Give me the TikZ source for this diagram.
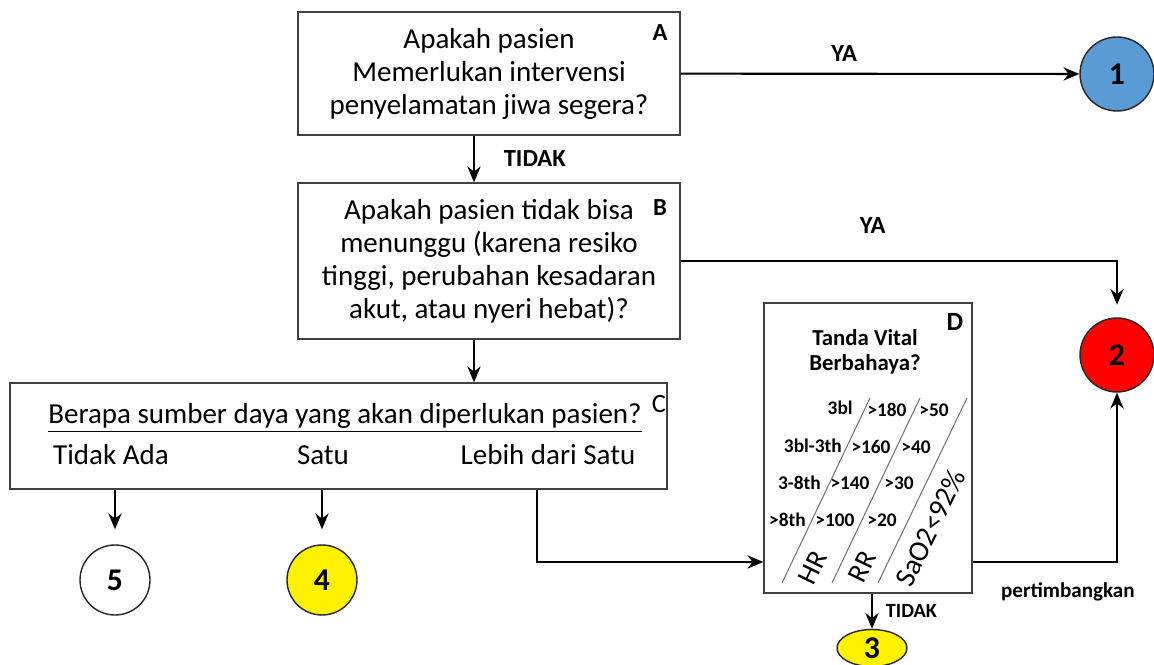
\documentclass[tikz,border=0pt]{standalone}
\usepackage{fontspec}
\setmainfont{Carlito}
\usetikzlibrary{arrows.meta, shapes.geometric}

\begin{document}
\begin{tikzpicture}[x=0.02cm, y=-0.02cm]

\tikzset{box/.style = {shape=rectangle, draw=black!75, line width=0.8pt, align=center, font=\fontsize{16.5}{18.8}\selectfont}}
\tikzset{vertex/.style = {shape=circle, draw=black!85, line width=0.8pt, minimum size=1.48cm, font=\fontsize{18}{18}\selectfont\bfseries}}
\tikzset{edge/.style = {-{Stealth[length=9pt, width=7.5pt]}, line width=1.2pt}}
\tikzset{tag/.style = {font=\fontsize{14}{14}\selectfont\bfseries}}
\tikzset{cell/.style = {font=\fontsize{11}{11}\selectfont\bfseries, inner sep=0pt}}
\useasboundingbox (0,0) rectangle (1154,665);

%boxes
\node[box, minimum width=7.64cm, minimum height=2.46cm] (boxA) at (489,73.5) {Apakah pasien\\Memerlukan intervensi\\penyelamatan jiwa segera?};
\node[box, minimum width=7.64cm, minimum height=3.12cm] (boxB) at (489,261) {Apakah pasien tidak bisa\\menunggu (karena resiko\\tinggi, perubahan kesadaran\\akut, atau nyeri hebat)?};
\node[box, minimum width=13.14cm, minimum height=2.12cm] (boxC) at (338.5,436) {};
\node[box, minimum width=4.16cm, minimum height=5.8cm] (boxD) at (868,448) {};
\node[tag] (tagA) at (660,33) {A};
\node[tag] (tagB) at (660,208) {B};
\node[font=\fontsize{15}{15}\selectfont] (tagC) at (659,404) {C};
\node[tag, font=\fontsize{15}{15}\selectfont\bfseries] (tagD) at (955,322) {D};

%box C
\node[font=\fontsize{16.5}{16.5}\selectfont] (ask) at (345,418) {\underline{Berapa sumber daya yang akan diperlukan pasien?}};
\node[font=\fontsize{16.5}{16.5}\selectfont] (none) at (111,455) {Tidak Ada};
\node[font=\fontsize{16.5}{16.5}\selectfont] (one) at (323,455) {Satu};
\node[font=\fontsize{16.5}{16.5}\selectfont] (more) at (548,455) {Lebih dari Satu};

%box D
\node[align=center, font=\fontsize{13}{14.5}\selectfont\bfseries] (vital) at (865,352) {Tanda Vital\\Berbahaya?};
\draw[black!55, line width=0.6pt] (870,398) -- (782,583);
\draw[black!55, line width=0.6pt] (920,398) -- (832,583);
\draw[black!55, line width=0.6pt] (967,398) -- (878,583);
\node[cell, anchor=east] (r1) at (853,408) {3bl};
\node[cell, anchor=east] (r2) at (842,446) {3bl-3th};
\node[cell, anchor=east] (r3) at (821,483) {3-8th};
\node[cell, anchor=east] (r4) at (806,520) {>8th};
\node[cell] (hr1) at (887,410) {>180};
\node[cell] (rr1) at (934,410) {>50};
\node[cell] (hr2) at (871,447) {>160};
\node[cell] (rr2) at (916,447) {>40};
\node[cell] (hr3) at (850,483) {>140};
\node[cell] (rr3) at (899,483) {>30};
\node[cell] (hr4) at (835,520) {>100};
\node[cell] (rr4) at (882,520) {>20};
\node[rotate=64, inner sep=0pt, font=\fontsize{16}{16}\selectfont] (hr) at (813,568) {HR};
\node[rotate=64, inner sep=0pt, font=\fontsize{16}{16}\selectfont] (rr) at (862,567) {RR};
\node[rotate=64, inner sep=0pt, font=\fontsize{16.5}{16.5}\selectfont] (sao) at (930,528) {SaO2<92\%};

%verticies
\node[vertex, fill={rgb,255:red,91;green,155;blue,213}] (c1) at (1117,74) {1};
\node[vertex, fill=red] (c2) at (1117,355) {2};
\node[vertex, fill=yellow, minimum size=1.4cm, shape=ellipse, minimum width=1.4cm, minimum height=0.74cm, inner sep=0pt] (c3) at (872,648) {3};
\node[vertex, fill=yellow, minimum size=1.4cm] (c4) at (322,580) {4};
\node[vertex, fill=white, minimum size=1.4cm] (c5) at (115,580) {5};

%edges
\draw[edge] (boxA) -- (c1) node[pos=0.41, above=3pt, tag] {YA};
\draw[edge] ([xshift=-0.3cm]boxA.south) -- ([xshift=-0.3cm]boxB.north) node[midway, right=13pt, tag] {TIDAK};
\draw[edge, shorten >=0.25cm] (boxB.east) -| (c2.north) node[pos=0.22, above=12pt, tag] {YA};
\draw[edge] ([xshift=-0.3cm]boxB.south) -- ([xshift=-0.3cm]boxB.south |- boxC.north);
\draw[edge, shorten >=0.3cm] (boxC.south -| c5) -- (c5.north);
\draw[edge, shorten >=0.3cm] (boxC.south -| c4) -- (c4.north);
\draw[edge] ([xshift=-0.22cm]boxC.south -| more) |- ([yshift=-2.28cm]boxD.west);
\draw[edge] ([yshift=-2.28cm]boxD.east) -| (c2.south) node[pos=0.33, below=8pt, font=\fontsize{12}{12}\selectfont\bfseries] {pertimbangkan};
\draw[edge] (boxD.south -| c3) -- (c3.north) node[midway, right=4pt, font=\fontsize{11.5}{11.5}\selectfont\bfseries] {TIDAK};

\end{tikzpicture}
\end{document}
